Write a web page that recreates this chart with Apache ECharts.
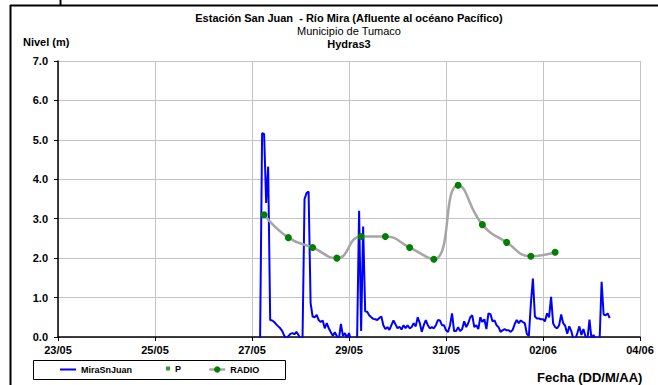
<!DOCTYPE html>
<html><head><meta charset="utf-8">
<script src="https://cdn.jsdelivr.net/npm/echarts@6/dist/echarts.min.js"></script>
<style>html,body{margin:0;padding:0;background:#fff}#c{width:658px;height:385px}</style>
</head><body><div id="c"></div>
<script>
// x values are days counted from 23/05 00:00
const xTickLabels = ['23/05','25/05','27/05','29/05','31/05','02/06','04/06'];
const yTickLabels = ['0.0','1.0','2.0','3.0','4.0','5.0','6.0','7.0'];
const miraStartDay = 4 + 4/24;   // 27/05 04:00
const miraStepDay = 1/24;        // hourly readings
const miraValues = [
 -0.1,5.17,5.15,3.4,4.32,0.43,0.42,0.38,0.32,0.27,0.22,0.15,0.03,-0.05,0.02,0.08,0.10,0.07,0.13,0.05,
 -0.05,-0.05,3.5,3.65,3.69,0.86,0.52,0.5,0.56,0.43,0.38,0.42,0.22,0.35,0.22,0.12,0.03,0.12,0.02,-0.05,
 0.33,0.03,0.1,-0.02,0.1,-0.1,-0.1,-0.1,-0.1,3.2,0.15,2.8,0.65,0.64,0.55,0.5,0.46,0.45,0.43,0.48,
 0.52,0.3,0.2,0.25,0.18,0.3,0.42,0.32,0.22,0.26,0.19,0.3,0.22,0.3,0.22,0.25,0.35,0.27,0.5,0.36,
 0.13,0.3,0.43,0.3,0.22,0.25,0.22,0.3,0.43,0.42,0.3,0.3,0.17,0.13,0.3,0.6,0.15,0.15,0.25,0.15,
 0.2,0.4,0.25,0.35,0.5,0.55,0.25,0.3,0.2,0.5,0.38,0.45,0.2,0.6,0.58,0.4,0.42,0.3,0.25,0.13,
 0.17,0.2,0.17,0.17,0.13,0.18,0.33,0.43,0.35,0.42,0.38,0.35,0.08,0.02,0.85,1.48,0.52,0.47,0.47,0.45,
 0.45,0.4,0.6,0.5,1.02,0.35,0.25,0.22,0.3,0.57,0.35,0.28,0.08,0.27,0.15,-0.05,-0.05,0.1,0.27,0.05,
 0.2,0.02,-0.05,0.44,-0.05,0.05,-0.05,-0.1,-0.1,1.40,0.57,0.55,0.6,0.48
];
const radioStartDay = 4.25;      // 27/05 06:00
const radioStepDay = 0.5;        // every 12 h
const radioValues = [3.10,2.52,2.27,2.00,2.55,2.55,2.27,1.97,3.85,2.85,2.40,2.05,2.15];
const pValues = [];

const FONT = '"Liberation Sans", Arial, sans-serif';
const miraData = miraValues.map((v,i)=>[miraStartDay + i*miraStepDay, v]);
const radioData = radioValues.map((v,i)=>[radioStartDay + i*radioStepDay, v]);

const chart = echarts.init(document.getElementById('c'), null, {renderer:'svg'});
const legendText = {fontFamily:FONT, fontSize:9, fontWeight:'bold', color:'#000'};
chart.setOption({
  animation:false,
  backgroundColor:'#fff',
  grid:{left:58, right:18, top:61, bottom:48},
  xAxis:{type:'value', min:0, max:12, interval:2,
    axisLine:{lineStyle:{color:'#000', width:1.5}},
    axisTick:{show:true, length:4, lineStyle:{color:'#000'}},
    axisLabel:{margin:7, fontFamily:FONT, fontSize:11, fontWeight:'bold', color:'#000',
      showMaxLabel:true, showMinLabel:true,
      formatter:v=>xTickLabels[Math.round(v/2)]},
    splitLine:{show:true, lineStyle:{color:'#c4c4c4', width:1}}},
  yAxis:{type:'value', min:0, max:7, interval:1,
    axisLine:{show:true, lineStyle:{color:'#000', width:1.5}},
    axisTick:{show:true, length:4, lineStyle:{color:'#000'}},
    axisLabel:{margin:10, fontFamily:FONT, fontSize:11, fontWeight:'bold', color:'#000',
      formatter:v=>yTickLabels[Math.round(v)]},
    splitLine:{show:true, lineStyle:{color:'#c4c4c4', width:1}}},
  legend:[
    {left:60, top:365, padding:0, itemWidth:16, itemHeight:2, selectedMode:false,
      data:[{name:'MiraSnJuan', icon:'rect'}], textStyle:legendText},
    {left:166, top:364, padding:0, itemWidth:4, itemHeight:4, selectedMode:false,
      data:[{name:'P', icon:'rect'}], textStyle:legendText},
    {left:208, top:365, padding:0, itemWidth:16, itemHeight:8, selectedMode:false,
      lineStyle:{color:'#a6a6a6', width:2.5}, itemStyle:{color:'#008000'},
      data:['RADIO'], textStyle:legendText}
  ],
  series:[
    {name:'MiraSnJuan', type:'line', data:miraData, showSymbol:false, symbol:'none', clip:true,
      lineStyle:{color:'#0000ff', width:2}, itemStyle:{color:'#0000ff'}, z:2},
    {name:'P', type:'scatter', data:pValues, symbol:'rect', symbolSize:4, itemStyle:{color:'#008000'}},
    {name:'RADIO', type:'line', data:radioData, smooth:0.5, symbol:'circle', symbolSize:7, showSymbol:true,
      lineStyle:{color:'#a6a6a6', width:2.5}, itemStyle:{color:'#008000'}, z:3}
  ],
  graphic:[
    {type:'line', shape:{x1:10.5, y1:5, x2:10.5, y2:385}, style:{stroke:'#000', lineWidth:2}},
    {type:'line', shape:{x1:10, y1:5.5, x2:658, y2:5.5}, style:{stroke:'#000', lineWidth:2}},
    {type:'line', shape:{x1:60.5, y1:0, x2:60.5, y2:5}, style:{stroke:'#000', lineWidth:2}},
    {type:'rect', shape:{x:33.5, y:360.5, width:252, height:19}, style:{stroke:'#000', lineWidth:1, fill:'none'}},
    {type:'text', x:349, y:18, style:{text:'Estación San Juan  - Río Mira (Afluente al océano Pacífico)', align:'center', verticalAlign:'middle', fontFamily:FONT, fontSize:11, fontWeight:'bold', fill:'#000'}},
    {type:'text', x:349, y:31, style:{text:'Municipio de Tumaco', align:'center', verticalAlign:'middle', fontFamily:FONT, fontSize:11, fill:'#000'}},
    {type:'text', x:349, y:44, style:{text:'Hydras3', align:'center', verticalAlign:'middle', fontFamily:FONT, fontSize:11, fontWeight:'bold', fill:'#000'}},
    {type:'text', x:23, y:42, style:{text:'Nivel (m)', align:'left', verticalAlign:'middle', fontFamily:FONT, fontSize:11, fontWeight:'bold', fill:'#000'}},
    {type:'text', x:537, y:377, style:{text:'Fecha (DD/M/AA)', align:'left', verticalAlign:'middle', fontFamily:FONT, fontSize:13, fontWeight:'bold', fill:'#000'}}
  ]
});
</script></body></html>
